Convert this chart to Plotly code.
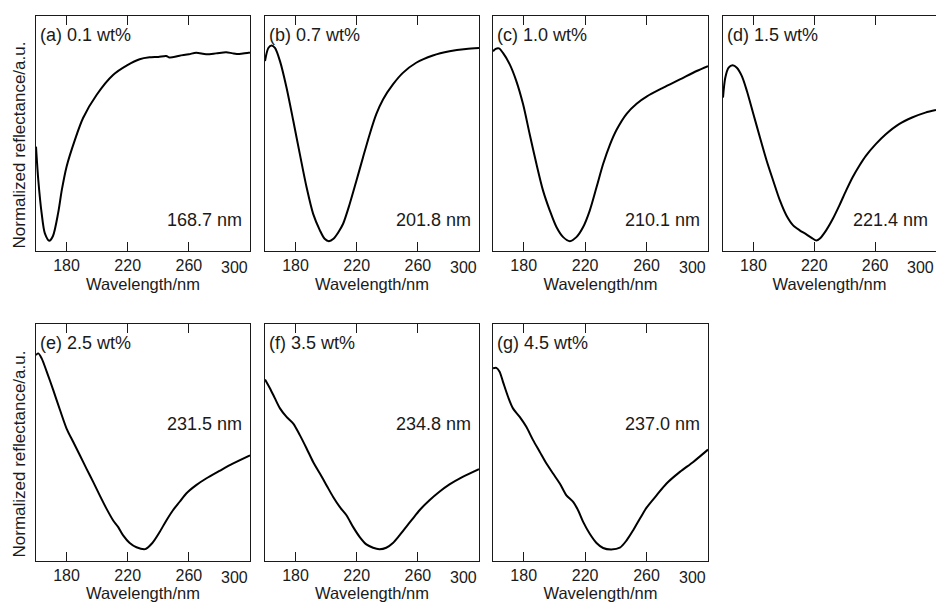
import plotly.graph_objects as go

# Wavelength (nm) and normalized reflectance for each Al-content sample
wl_a = [160, 161.5, 163.7, 165.8, 168.7, 171.1, 174.5, 176.9, 180, 185.4, 190.8, 199.6, 210.4, 219.8,
        227.8, 234.3, 240, 245.2, 247.4, 253.9, 260, 264.8, 271.3, 277.8, 284.4, 288.7, 293, 299, 300]
r_a = [0.444, 0.302, 0.160, 0.075, 0.044, 0.064, 0.162, 0.260, 0.359, 0.472, 0.566, 0.664, 0.749, 0.791,
       0.816, 0.824, 0.826, 0.830, 0.823, 0.831, 0.837, 0.844, 0.837, 0.841, 0.846, 0.841, 0.838, 0.844, 0.843]

wl_b = [160, 162.2, 164.3, 166.5, 169.8, 174.1, 178.5, 182.8, 187.2, 191.5, 195.9, 199.0, 201.8, 204.8,
        208.0, 211.1, 215.4, 219.8, 224.1, 228.5, 232.8, 237.2, 243.7, 250.2, 258.9, 269.8, 280.7, 291.5, 300]
r_b = [0.808, 0.864, 0.874, 0.864, 0.808, 0.695, 0.554, 0.412, 0.271, 0.158, 0.088, 0.052, 0.042, 0.052,
       0.080, 0.116, 0.200, 0.299, 0.398, 0.497, 0.582, 0.645, 0.709, 0.758, 0.801, 0.832, 0.850, 0.860, 0.864]

wl_c = [160, 161.7, 163.9, 166.5, 170.9, 175.2, 179.6, 183.9, 188.3, 192.6, 197, 201.3, 205.7, 210.1,
        214.3, 218.7, 223, 227.4, 231.7, 236.1, 240.4, 247, 253.5, 260, 270.9, 281.7, 292.6, 300]
r_c = [0.850, 0.860, 0.862, 0.843, 0.794, 0.723, 0.624, 0.497, 0.370, 0.257, 0.172, 0.102, 0.059, 0.042,
       0.059, 0.102, 0.172, 0.271, 0.370, 0.452, 0.515, 0.584, 0.627, 0.657, 0.695, 0.730, 0.766, 0.787]

wl_d = [160, 161.5, 163.7, 166.3, 169.1, 172.4, 175.7, 180, 184.3, 188.7, 193, 197.4, 201.7, 206.1, 210.4,
        214.8, 218.5, 221.4, 223.5, 227.8, 232.2, 236.5, 240.9, 245.2, 249.6, 253.9, 260.4, 267, 275.7,
        284.3, 293, 300]
r_d = [0.653, 0.737, 0.780, 0.790, 0.780, 0.744, 0.681, 0.582, 0.483, 0.384, 0.299, 0.215, 0.151, 0.109, 0.088,
       0.071, 0.055, 0.045, 0.052, 0.088, 0.137, 0.194, 0.257, 0.314, 0.363, 0.405, 0.455, 0.497, 0.540,
       0.568, 0.589, 0.600]

wl_e = [160, 161.5, 163.7, 167, 171.3, 175.7, 180, 184.3, 188.7, 193, 197.4, 201.7, 206.1, 210.4, 213.7,
        217, 221.3, 225.7, 231.5, 236, 240.5, 245, 249.5, 254, 258.3, 264.8, 271.3, 280, 288.7, 300]
r_e = [0.869, 0.876, 0.855, 0.799, 0.721, 0.637, 0.559, 0.503, 0.446, 0.390, 0.334, 0.277, 0.221, 0.172, 0.144,
       0.108, 0.076, 0.058, 0.050, 0.075, 0.118, 0.168, 0.213, 0.250, 0.285, 0.320, 0.348, 0.380, 0.411, 0.446]

wl_f = [160, 163.3, 166.5, 169.8, 174.1, 178.5, 182.8, 187.2, 191.5, 195.9, 200.2, 204.6, 208.9, 213.3,
        217.6, 222, 226.3, 230.7, 234.8, 239.3, 243.7, 248, 252.4, 256.7, 261.1, 267.6, 274.1, 280.7, 289.3, 300]
r_f = [0.766, 0.728, 0.686, 0.644, 0.608, 0.580, 0.531, 0.475, 0.418, 0.369, 0.320, 0.270, 0.228, 0.193,
       0.144, 0.101, 0.070, 0.056, 0.050, 0.056, 0.076, 0.108, 0.144, 0.179, 0.214, 0.256, 0.292, 0.323, 0.355, 0.388]

wl_g = [160, 162.2, 164.3, 166.5, 169.8, 173, 177.4, 181.7, 186.1, 190.4, 194.8, 199.1, 203.5, 207.8, 212.2,
        215.4, 218.7, 223, 227.4, 231.7, 237.0, 242.6, 247, 251.3, 255.7, 260, 266.5, 273, 281.7, 290.4, 300]
r_g = [0.813, 0.815, 0.799, 0.756, 0.693, 0.644, 0.608, 0.566, 0.510, 0.461, 0.411, 0.369, 0.327, 0.277, 0.249,
       0.214, 0.165, 0.115, 0.076, 0.055, 0.049, 0.056, 0.087, 0.130, 0.179, 0.225, 0.277, 0.327, 0.376, 0.418, 0.470]

panel_labels = ["(a) 0.1 wt%", "(b) 0.7 wt%", "(c) 1.0 wt%", "(d) 1.5 wt%",
                "(e) 2.5 wt%", "(f) 3.5 wt%", "(g) 4.5 wt%"]
dip_nm = [168.7, 201.8, 210.1, 221.4, 231.5, 234.8, 237.0]
tick_vals = [180, 220, 260]
edge_tick = 300
x_title = "Wavelength/nm"
y_title = "Normalized reflectance/a.u."

series = [(wl_a, r_a), (wl_b, r_b), (wl_c, r_c), (wl_d, r_d), (wl_e, r_e), (wl_f, r_f), (wl_g, r_g)]

W, H = 936, 602
FONT = "Liberation Sans, Arial, sans-serif"
INK = "#1a1a1a"

# panel frames in pixels: (left, right, top, bottom)
cols = [(36, 250), (265, 479), (493, 708), (723, 936)]
rows = [(16, 251), (324, 561)]
frames = [cols[i] + rows[0] for i in range(4)] + [cols[i] + rows[1] for i in range(3)]
value_label_y = [0.13, 0.13, 0.13, 0.13, 0.58, 0.58, 0.58]

fig = go.Figure()
layout = dict(width=W, height=H, margin=dict(l=0, r=0, t=0, b=0),
              paper_bgcolor="white", plot_bgcolor="white", showlegend=False,
              font=dict(family=FONT, color=INK))
annotations = []

for i, ((wl, r), (x0, x1, y0, y1)) in enumerate(zip(series, frames)):
    n = "" if i == 0 else str(i + 1)
    fig.add_trace(go.Scatter(x=wl, y=r, mode="lines", xaxis="x" + n, yaxis="y" + n,
                             line=dict(color="black", width=2, shape="spline", smoothing=0.8),
                             hoverinfo="skip"))
    layout["xaxis" + n] = dict(
        domain=[x0 / W, x1 / W], anchor="y" + n, range=[160, 300],
        tickvals=tick_vals, ticks="inside", ticklen=9, tickwidth=1.3, tickcolor=INK,
        showline=True, linecolor=INK, linewidth=1.3, mirror="ticks",
        showgrid=False, zeroline=False, tickfont=dict(size=16, color=INK),
        title=dict(text=x_title, font=dict(size=16.5, color=INK), standoff=5),
    )
    layout["yaxis" + n] = dict(
        domain=[1 - y1 / H, 1 - y0 / H], anchor="x" + n, range=[0, 1],
        showticklabels=False, ticks="", showline=True, linecolor=INK, linewidth=1.3,
        mirror=True, showgrid=False, zeroline=False,
    )
    # tick label for the wavelength at the right frame edge
    annotations.append(dict(text=str(edge_tick), xref="x%s domain" % n, yref="y%s domain" % n,
                            x=1, y=0, xanchor="right", yanchor="top", yshift=-6,
                            showarrow=False, font=dict(size=16, color=INK)))
    annotations.append(dict(text=panel_labels[i], xref="x%s domain" % n, yref="y%s domain" % n,
                            x=0, y=1, xanchor="left", yanchor="top", xshift=2, yshift=-7,
                            showarrow=False, font=dict(size=18, color=INK)))
    annotations.append(dict(text="%.1f nm" % dip_nm[i], xref="x%s domain" % n, yref="y%s domain" % n,
                            x=1, y=value_label_y[i], xanchor="right", yanchor="middle", xshift=-6,
                            showarrow=False, font=dict(size=18, color=INK)))

for (y0, y1) in rows:
    annotations.append(dict(text=y_title, xref="paper", yref="paper", x=19 / W,
                            y=1 - ((y0 + y1) / 2 + 12) / H, xanchor="center", yanchor="middle",
                            textangle=-90, showarrow=False, font=dict(size=17, color=INK)))

layout["annotations"] = annotations
fig.update_layout(**layout)
fig.write_html("out.html")
